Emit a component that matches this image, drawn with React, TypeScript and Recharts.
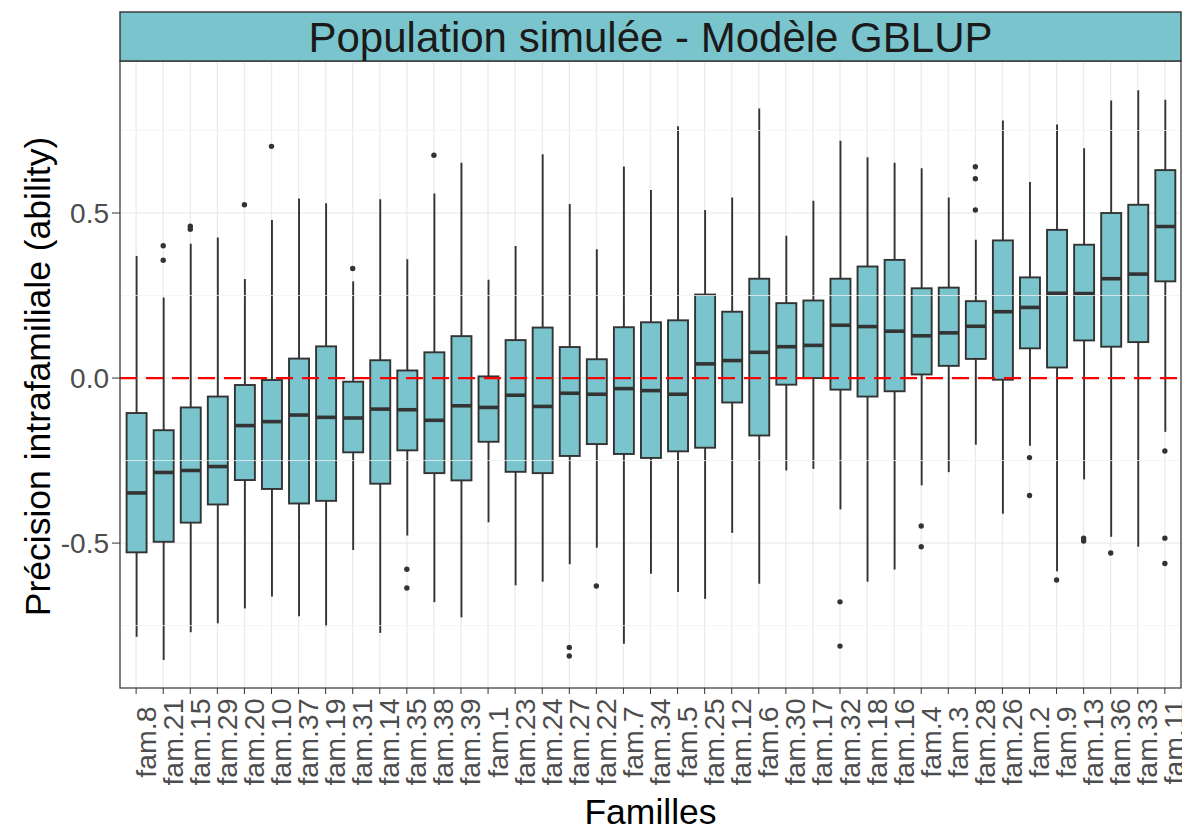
import React from 'react';
import {
  ComposedChart,
  Bar,
  Scatter,
  XAxis,
  YAxis,
  CartesianGrid,
  ReferenceLine,
} from 'recharts';

// families, ordered by median precision
const families = [
  'fam.8', 'fam.21', 'fam.15', 'fam.29', 'fam.20', 'fam.10', 'fam.37', 'fam.19', 'fam.31', 'fam.14',
  'fam.35', 'fam.38', 'fam.39', 'fam.1', 'fam.23', 'fam.24', 'fam.27', 'fam.22', 'fam.7', 'fam.34',
  'fam.5', 'fam.25', 'fam.12', 'fam.6', 'fam.30', 'fam.17', 'fam.32', 'fam.18', 'fam.16', 'fam.4',
  'fam.3', 'fam.28', 'fam.26', 'fam.2', 'fam.9', 'fam.13', 'fam.36', 'fam.33', 'fam.11',
];

const whiskerLow = [
  -0.784, -0.854, -0.77, -0.743, -0.698, -0.662, -0.722, -0.752, -0.521, -0.772,
  -0.477, -0.679, -0.725, -0.437, -0.628, -0.617, -0.564, -0.514, -0.805, -0.593,
  -0.648, -0.669, -0.469, -0.623, -0.28, -0.275, -0.398, -0.617, -0.58, -0.325,
  -0.285, -0.202, -0.411, -0.205, -0.585, -0.307, -0.481, -0.511, -0.163,
];
const q1 = [
  -0.528, -0.496, -0.438, -0.383, -0.309, -0.336, -0.38, -0.372, -0.225, -0.32,
  -0.219, -0.288, -0.31, -0.193, -0.284, -0.288, -0.236, -0.2, -0.23, -0.242,
  -0.222, -0.211, -0.074, -0.174, -0.02, 0.0, -0.035, -0.056, -0.04, 0.011,
  0.037, 0.058, -0.005, 0.09, 0.032, 0.114, 0.095, 0.109, 0.293,
];
const medians = [
  -0.348, -0.286, -0.28, -0.268, -0.144, -0.132, -0.112, -0.119, -0.121, -0.094,
  -0.096, -0.128, -0.084, -0.089, -0.052, -0.086, -0.046, -0.049, -0.032, -0.038,
  -0.049, 0.043, 0.053, 0.078, 0.095, 0.099, 0.16, 0.156, 0.142, 0.128,
  0.137, 0.157, 0.201, 0.214, 0.257, 0.256, 0.301, 0.315, 0.459,
];
const q3 = [
  -0.106, -0.158, -0.089, -0.056, -0.021, -0.006, 0.059, 0.096, -0.011, 0.054,
  0.023, 0.078, 0.127, 0.005, 0.115, 0.153, 0.094, 0.057, 0.154, 0.169,
  0.175, 0.253, 0.201, 0.301, 0.227, 0.235, 0.301, 0.338, 0.358, 0.272,
  0.274, 0.233, 0.417, 0.305, 0.449, 0.404, 0.5, 0.525, 0.63,
];
const whiskerHigh = [
  0.37, 0.244, 0.407, 0.426, 0.3, 0.479, 0.544, 0.53, 0.293, 0.542,
  0.36, 0.559, 0.652, 0.298, 0.4, 0.678, 0.527, 0.39, 0.641, 0.57,
  0.763, 0.509, 0.547, 0.817, 0.431, 0.537, 0.719, 0.669, 0.652, 0.636,
  0.547, 0.419, 0.78, 0.594, 0.768, 0.696, 0.841, 0.872, 0.843,
];
const outliers: number[][] = [
  [], [0.401, 0.357], [0.46, 0.451], [], [0.525], [0.702], [], [], [0.332], [],
  [-0.579, -0.636], [0.675], [], [], [], [], [-0.816, -0.842], [-0.63], [], [],
  [], [], [], [], [], [], [-0.678, -0.812], [], [], [-0.448, -0.511],
  [], [0.64, 0.604, 0.509], [], [-0.241, -0.356], [-0.612], [-0.485, -0.494], [-0.53], [], [-0.221, -0.485, -0.562],
];

const yTicks = [-0.5, 0, 0.5];
const yMinor = [-0.75, -0.25, 0.25, 0.75];

const data = families.map((fam, i) => ({
  fam,
  lo: whiskerLow[i],
  q1: q1[i],
  med: medians[i],
  q3: q3[i],
  hi: whiskerHigh[i],
  o1: outliers[i][0] ?? null,
  o2: outliers[i][1] ?? null,
  o3: outliers[i][2] ?? null,
}));

const FILL = '#7AC5CD';
const INK = '#333333';

const W = 1182;
const H = 829;
const PL = 120;
const PT = 61;
const PR = 1181;
const PB = 688;

const BoxShape = (props: any) => {
  const { x, y, width, height, payload } = props;
  const top = Math.min(y, y + height);
  const h = Math.abs(height);
  const ppu = h / (payload.hi - payload.lo);
  const py = (v: number) => top + (payload.hi - v) * ppu;
  const cx = x + width / 2;
  return (
    <g>
      <line x1={cx} x2={cx} y1={py(payload.hi)} y2={py(payload.q3)} stroke={INK} strokeWidth={1.9} />
      <line x1={cx} x2={cx} y1={py(payload.q1)} y2={py(payload.lo)} stroke={INK} strokeWidth={1.9} />
      <rect
        x={x}
        y={py(payload.q3)}
        width={width}
        height={py(payload.q1) - py(payload.q3)}
        fill={FILL}
        stroke={INK}
        strokeWidth={1.9}
      />
      <line x1={x} x2={x + width} y1={py(payload.med)} y2={py(payload.med)} stroke={INK} strokeWidth={3.6} />
    </g>
  );
};

const makeDot = (key: string) => (props: any) => {
  const { cx, cy, payload } = props;
  if (payload == null || payload[key] == null) return <g />;
  return <circle cx={cx} cy={cy} r={2.7} fill={INK} />;
};

const FamTick = (props: any) => {
  const { x, payload } = props;
  const cy = 742;
  return (
    <text
      x={x}
      y={cy}
      dy={19.5}
      transform={`rotate(-90 ${x} ${cy})`}
      textAnchor="middle"
      fill="#4D4D4D"
      fontSize={28.5}
    >
      {payload.value}
    </text>
  );
};

export default function App() {
  return (
    <div
      style={{
        position: 'absolute',
        left: 0,
        top: 0,
        width: W,
        height: H,
        background: '#fff',
        fontFamily: '"Liberation Sans", Arial, sans-serif',
      }}
    >
      <ComposedChart
        width={W}
        height={H}
        data={data}
        margin={{ top: PT, right: W - PR, bottom: 0, left: 0 }}
      >
        <CartesianGrid stroke="#EBEBEB" strokeWidth={1.3} horizontalValues={yTicks} />
        {yMinor.map((v) => (
          <ReferenceLine key={v} y={v} stroke="#F2F2F2" strokeWidth={0.8} />
        ))}
        <XAxis
          dataKey="fam"
          type="category"
          interval={0}
          height={H - PB}
          padding={{ left: 2.6, right: 2.6 }}
          axisLine={false}
          tickSize={6}
          tickLine={{ stroke: INK }}
          tick={<FamTick />}
        />
        <YAxis
          type="number"
          domain={[-0.939, 0.9606]}
          allowDataOverflow
          ticks={yTicks}
          tickFormatter={(v: number) => v.toFixed(1)}
          width={PL}
          axisLine={false}
          tickSize={8}
          tickMargin={3}
          tickLine={{ stroke: INK }}
          tick={{ fill: '#4D4D4D', fontSize: 28 }}
        />
        <Bar
          dataKey={(d: any) => [d.lo, d.hi]}
          barSize={20}
          shape={<BoxShape />}
          isAnimationActive={false}
        />
        <Scatter dataKey="o1" shape={makeDot('o1')} isAnimationActive={false} />
        <Scatter dataKey="o2" shape={makeDot('o2')} isAnimationActive={false} />
        <Scatter dataKey="o3" shape={makeDot('o3')} isAnimationActive={false} />
        <ReferenceLine y={0} stroke="#FF0000" strokeWidth={2.2} strokeDasharray="17 9" />
      </ComposedChart>
      <svg
        width={W}
        height={H}
        style={{ position: 'absolute', left: 0, top: 0, pointerEvents: 'none' }}
      >
        <rect x={PL} y={PT} width={PR - PL} height={PB - PT} fill="none" stroke={INK} strokeWidth={1.2} />
        <rect x={PL} y={12} width={PR - PL} height={PT - 12} fill={FILL} stroke={INK} strokeWidth={1.4} />
        <text x={(PL + PR) / 2} y={51.5} textAnchor="middle" fontSize={42} fill="#1A1A1A">
          Population simulée - Modèle GBLUP
        </text>
        <text
          x={50}
          y={(PT + PB) / 2 + 2}
          transform={`rotate(-90 50 ${(PT + PB) / 2 + 2})`}
          textAnchor="middle"
          fontSize={35.5}
          fill="#000"
        >
          Précision intrafamiliale (ability)
        </text>
        <text x={(PL + PR) / 2} y={824} textAnchor="middle" fontSize={35.5} fill="#000">
          Familles
        </text>
      </svg>
    </div>
  );
}
